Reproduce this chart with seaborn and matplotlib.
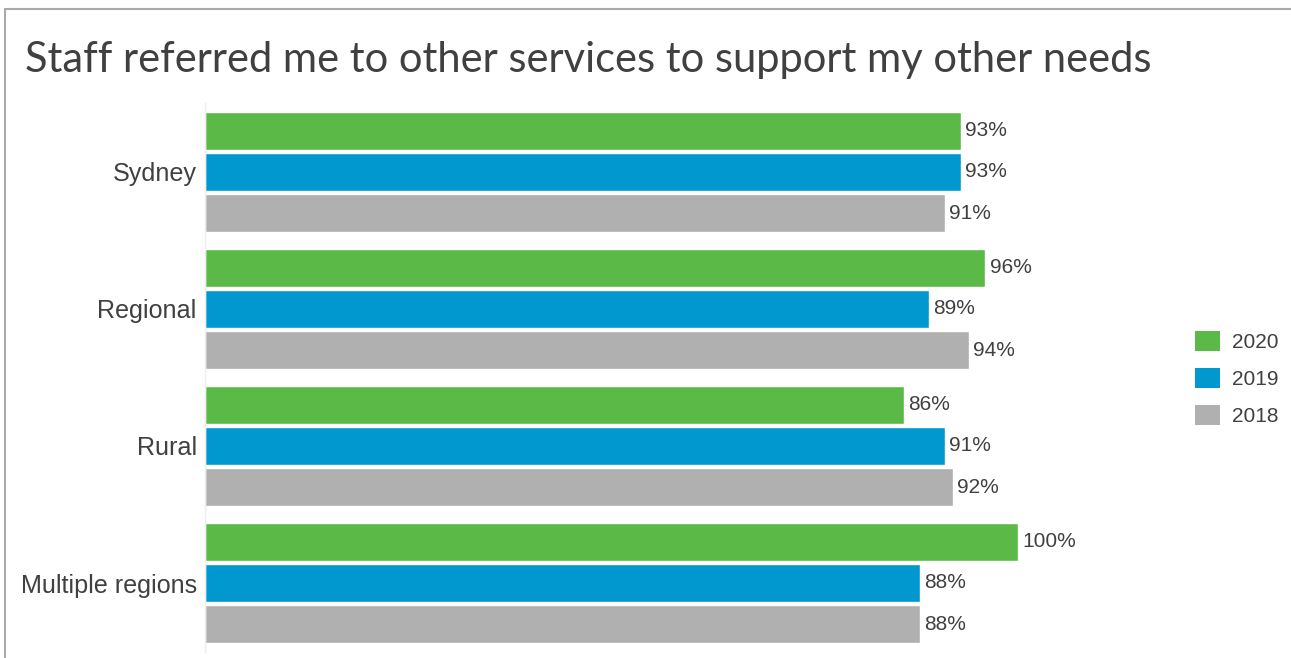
import matplotlib
matplotlib.use("Agg")
import matplotlib.pyplot as plt
from matplotlib.lines import Line2D
from matplotlib.patches import Patch
import seaborn as sns
import pandas as pd

# Survey results: share of respondents agreeing, by region and year
regions = ["Sydney", "Regional", "Rural", "Multiple regions"]
years = ["2020", "2019", "2018"]
values_2020 = [93, 96, 86, 100]
values_2019 = [93, 89, 91, 88]
values_2018 = [91, 94, 92, 88]

colors = {"2020": "#5BBA47", "2019": "#0098CF", "2018": "#B0B0B0"}
text_color = "#404040"

rows = []
for year, vals in zip(years, [values_2020, values_2019, values_2018]):
    for region, v in zip(regions, vals):
        rows.append({"region": region, "year": year, "value": v})
df = pd.DataFrame(rows)

sns.set_style("white")
plt.rcParams["font.family"] = ["Liberation Sans", "DejaVu Sans"]

W, H = 1291, 658
fig = plt.figure(figsize=(W / 100, H / 100), dpi=100)
fig.patch.set_facecolor("white")

px_per_unit = 8.13
xmax = 120
ax_left, ax_top, ax_bottom = 205, 103.5, 651.5
ax = fig.add_axes([ax_left / W, 1 - ax_bottom / H,
                   xmax * px_per_unit / W, (ax_bottom - ax_top) / H])

sns.barplot(data=df, y="region", x="value", hue="year", order=regions,
            hue_order=years, palette=colors, orient="h", width=0.9,
            gap=0.073, saturation=1, legend=False, ax=ax)

ax.set_xlim(0, xmax)
ax.set_ylim(3.5, -0.5)
ax.set_xlabel("")
ax.set_ylabel("")
ax.set_xticks([])
for side in ["top", "right", "bottom"]:
    ax.spines[side].set_visible(False)
ax.spines["left"].set_color("#EEEEEE")
ax.spines["left"].set_linewidth(1)
ax.tick_params(axis="y", length=0, pad=6, labelsize=18.1, labelcolor=text_color)

for container in ax.containers:
    vals = [int(round(b.get_width())) for b in container]
    ax.bar_label(container, labels=[f"{v}%" for v in vals], padding=3,
                 fontsize=15, color=text_color)

handles = [Patch(facecolor=colors[y], edgecolor="none") for y in years]
fig.legend(handles, years, loc="center left",
           bbox_to_anchor=(1195 / W, 1 - 378.5 / H), frameon=False,
           fontsize=15, handlelength=1.2, handleheight=1.1,
           labelspacing=0.77, handletextpad=0.58, borderpad=0,
           borderaxespad=0, labelcolor=text_color)

fig.text(25 / W, 1 - 72 / H,
         "Staff referred me to other services to support my other needs",
         fontsize=30, family=["Lato", "DejaVu Sans"], color=text_color,
         ha="left", va="baseline")

# frame lines along the top and left edges
fig.add_artist(Line2D([5 / W, 1], [1 - 9 / H, 1 - 9 / H],
                      transform=fig.transFigure, color="#AAAAAA", lw=1.5))
fig.add_artist(Line2D([5 / W, 5 / W], [1 - 9 / H, 0],
                      transform=fig.transFigure, color="#AAAAAA", lw=1.5))

fig.savefig("out.png", dpi=100, facecolor="white")
